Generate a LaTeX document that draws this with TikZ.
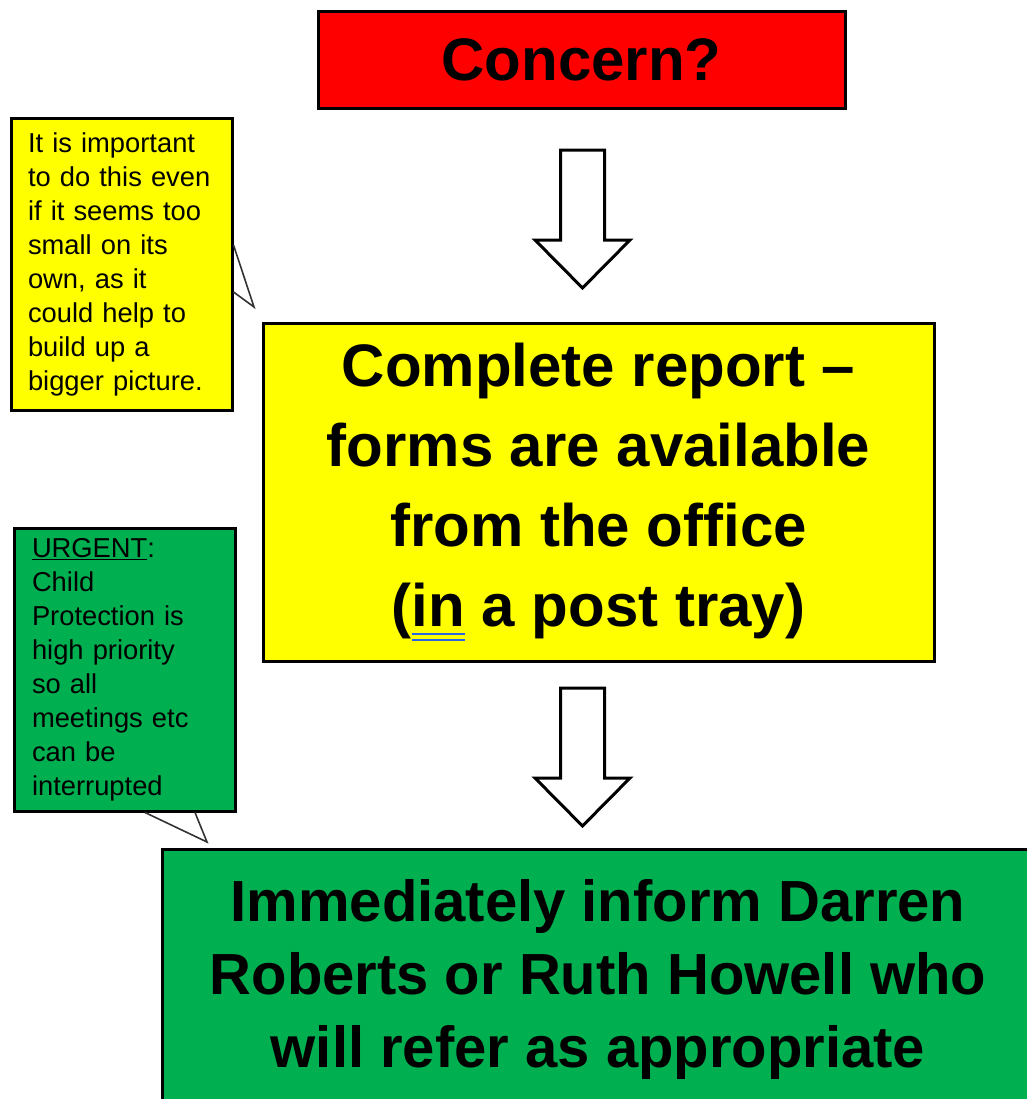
\documentclass[tikz,border=0pt]{standalone}
\usepackage{fontspec}
\setmainfont{Liberation Sans}
\usetikzlibrary{calc}
\definecolor{alertred}{RGB}{255,0,0}
\definecolor{noteyellow}{RGB}{255,255,0}
\definecolor{actiongreen}{RGB}{0,176,80}
\definecolor{spellblue}{RGB}{40,100,230}
\newcommand{\spellmark}[1]{\setbox0\hbox{#1}\rlap{\color{spellblue}\rule[-6pt]{\wd0}{1.5pt}}\rlap{\color{spellblue}\rule[-10.5pt]{\wd0}{1.5pt}}#1}

\begin{document}
\begin{tikzpicture}[x=0.75pt, y=-0.75pt,
	stage/.style={draw, line width=2.25pt, inner sep=0pt, align=center},
	note/.style={draw, line width=2.25pt, inner sep=0pt, align=left, minimum width=165.75pt, font=\fontsize{20.5}{25.5}\selectfont},
	tail/.style={draw=black!80, line width=1.2pt},
	downarrow/.pic={\draw[fill=white, line width=2.25pt] (-22,0) -- (22,0) -- (22,90) -- (47.5,90) -- (0,138) -- (-47.5,90) -- (-22,90) -- cycle;}]
	\useasboundingbox (0,0) rectangle (1027,1099);
	\clip (0,0) rectangle (1027,1099);
	\coordinate (stemA) at (582.5,150);
	\coordinate (stemB) at (582.5,688);
	\coordinate (tiptip) at (254,307);
	\coordinate (urgenttip) at (207,842);
	\node [stage, fill=alertred, minimum width=395.25pt, minimum height=72pt, font=\fontsize{45}{54}\selectfont\bfseries] (concern) at (581.5,60) {Concern?};
	\node [stage, fill=noteyellow, minimum width=503.25pt, minimum height=253.5pt, font=\fontsize{45}{60}\selectfont\bfseries] (report) at (598.5,492) {Complete report --\\forms are available\\from the office\\(\spellmark{in} a post tray)};
	\node [stage, fill=actiongreen, minimum width=654pt, minimum height=195.75pt, font=\fontsize{43.5}{54.75}\selectfont\bfseries] (inform) at (598,979.5) {Immediately inform Darren\\Roberts or Ruth Howell who\\will refer as appropriate};
	\node [note, fill=noteyellow, minimum height=219pt, text width=140.25pt] (tipnote) at (121.5,264) {It is important\\to do this even\\if it seems too\\small on its\\own, as it\\could help to\\build up a\\bigger picture.};
	\node [note, fill=actiongreen, minimum height=212.25pt, text width=138.75pt] (urgent) at (124.5,669.5) {\underline{URGENT}:\\Child\\Protection is\\high priority\\so all\\meetings etc\\can be\\interrupted};
	\draw [tail] ($(tipnote.east)+(0,-19)$) -- (tiptip) -- ($(tipnote.east)+(0,28)$);
	\draw [tail] ($(urgent.south)+(20.5,0)$) -- (urgenttip) -- ($(urgent.south)+(70.5,0)$);
	\pic at (stemA) {downarrow};
	\pic at (stemB) {downarrow};
\end{tikzpicture}
\end{document}
